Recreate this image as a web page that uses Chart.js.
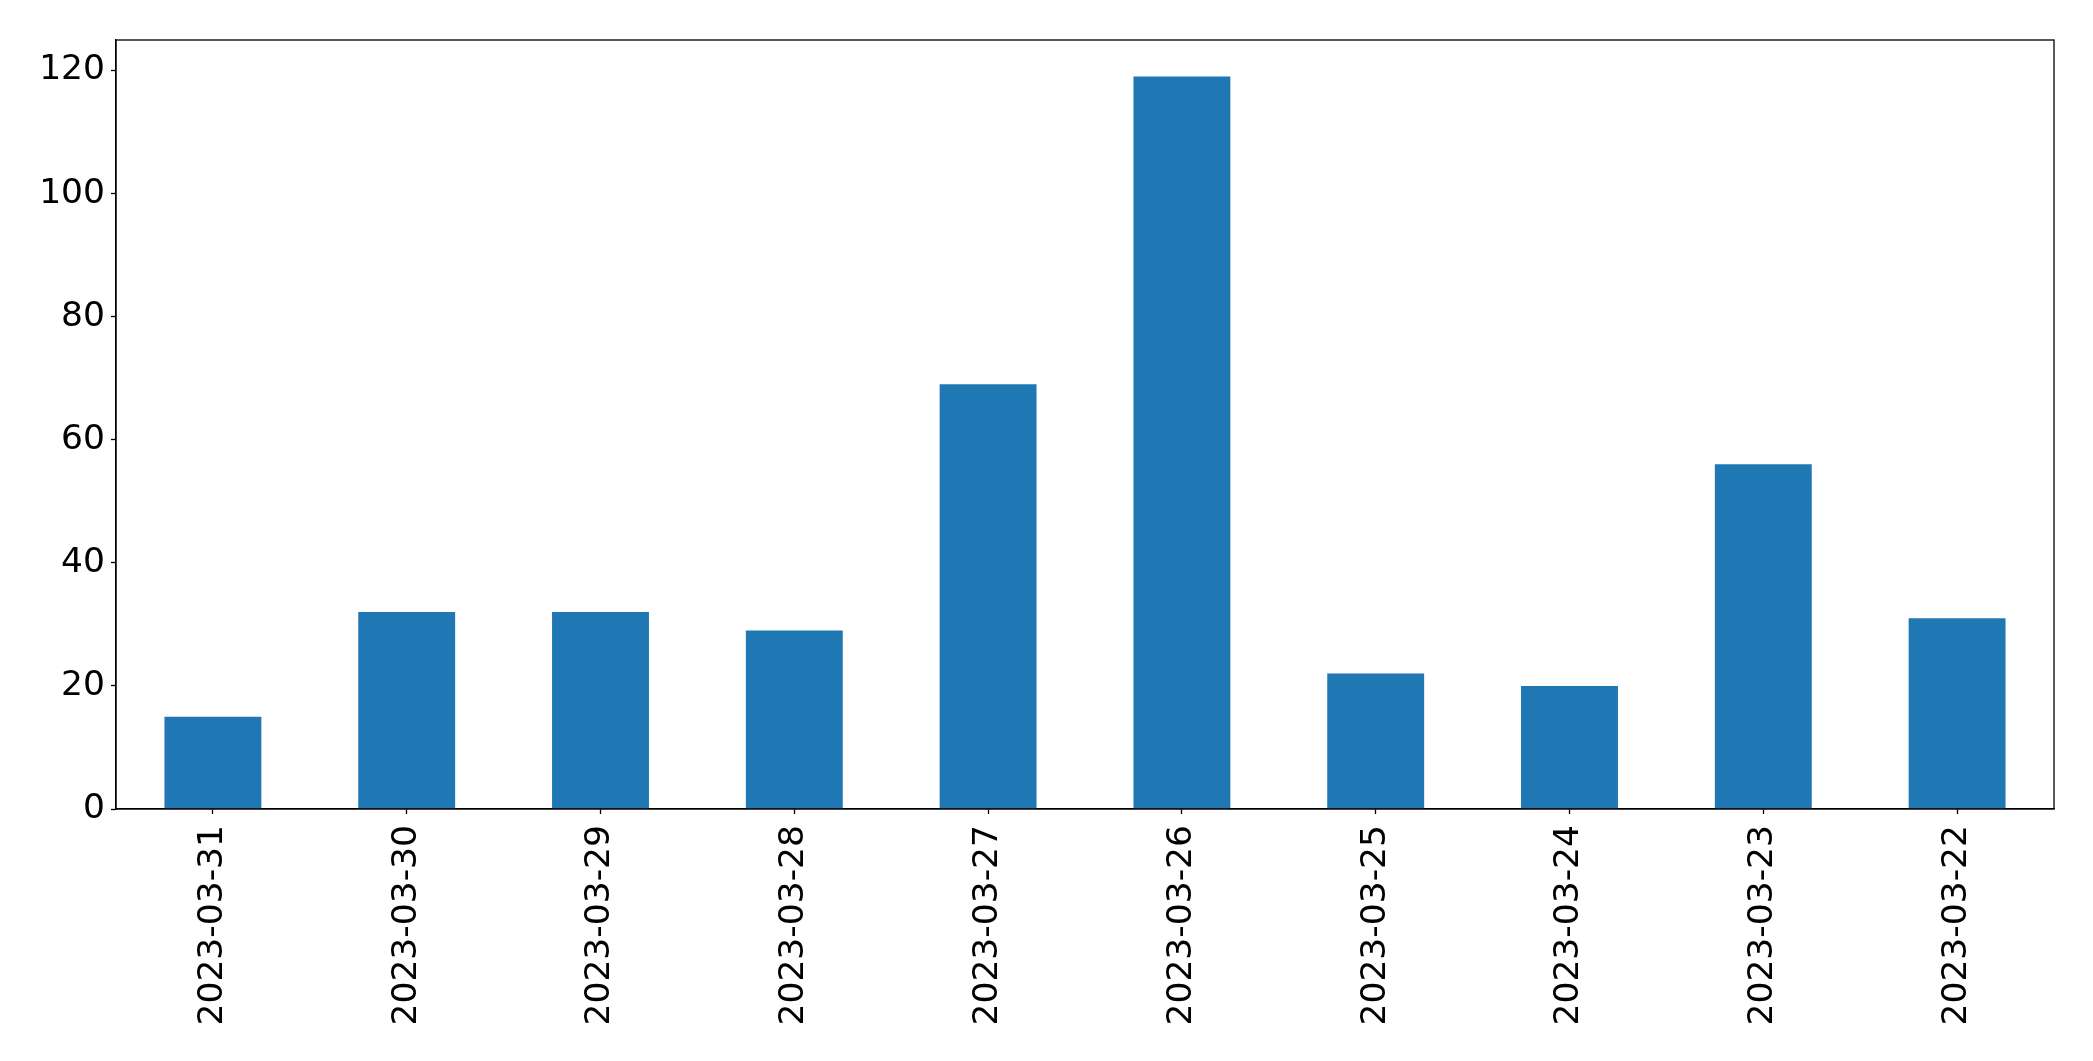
<!DOCTYPE html>
<html>
<head>
<meta charset="utf-8">
<script src="https://cdn.jsdelivr.net/npm/chart.js@4/dist/chart.umd.min.js"></script>
<style>
html,body{margin:0;padding:0;background:#fff;}
#wrap{width:2093px;height:1061px;position:relative;}
</style>
</head>
<body>
<div id="wrap"><canvas id="c" width="2093" height="1061"></canvas></div>
<script>
const categories = ["2023-03-31","2023-03-30","2023-03-29","2023-03-28","2023-03-27","2023-03-26","2023-03-25","2023-03-24","2023-03-23","2023-03-22"];
const values = [15, 32, 32, 29, 69, 119, 22, 20, 56, 31];
const yTicks = [0, 20, 40, 60, 80, 100, 120];
const yMax = 124.95;

const frame = {
  id: 'frame',
  afterDraw(chart) {
    const {ctx, chartArea: a} = chart;
    ctx.save();
    ctx.strokeStyle = '#000';
    ctx.lineWidth = 1.3;
    ctx.strokeRect(a.left, a.top, a.right - a.left, a.bottom - a.top);
    ctx.restore();
  }
};

Chart.defaults.font.family = "'DejaVu Sans', sans-serif";
Chart.defaults.color = '#000';

new Chart(document.getElementById('c'), {
  type: 'bar',
  data: {
    labels: categories,
    datasets: [{
      data: values,
      backgroundColor: '#1f77b4',
      borderWidth: 0,
      barPercentage: 0.5,
      categoryPercentage: 1.0
    }]
  },
  options: {
    responsive: false,
    animation: false,
    plugins: { legend: { display: false }, tooltip: { enabled: false } },
    layout: { padding: { left: 0, right: 39, top: 40, bottom: 0 } },
    scales: {
      x: {
        grid: { display: true, offset: false, drawOnChartArea: false, drawTicks: true, tickLength: 5, tickColor: '#000', tickWidth: 1.3 },
        border: { display: true, color: '#000', width: 1.3 },
        ticks: { font: { size: 34.5 }, color: '#000', maxRotation: 90, minRotation: 90, padding: 11, autoSkip: false },
        afterFit(scale) { scale.height = 252; }
      },
      y: {
        min: 0,
        max: yMax,
        grid: { display: true, drawOnChartArea: false, drawTicks: true, tickLength: 5, tickColor: '#000', tickWidth: 1.3 },
        border: { display: true, color: '#000', width: 1.3 },
        ticks: { font: { size: 34.5 }, color: '#000', stepSize: 20, padding: 6 },
        afterBuildTicks(scale) { scale.ticks = yTicks.map(v => ({ value: v })); },
        afterFit(scale) { scale.width = 116; }
      }
    }
  },
  plugins: [frame]
});
</script>
</body>
</html>
